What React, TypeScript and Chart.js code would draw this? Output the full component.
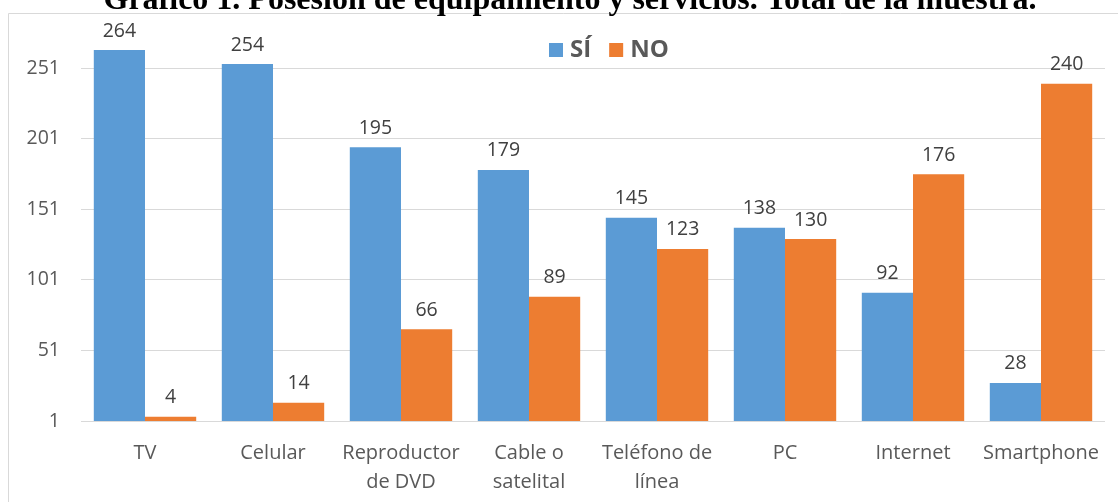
import React, { useEffect, useRef } from "react";
import { Chart, registerables } from "chart.js";

Chart.register(...registerables);

const categories: (string | string[])[] = [
  "TV",
  "Celular",
  ["Reproductor", "de DVD"],
  ["Cable o", "satelital"],
  ["Teléfono de", "línea"],
  "PC",
  "Internet",
  "Smartphone",
];
const siValues = [264, 254, 195, 179, 145, 138, 92, 28];
const noValues = [4, 14, 66, 89, 123, 130, 176, 240];
const yTicks = [1, 51, 101, 151, 201, 251];
const titleText = "Gráfico 1. Posesión de equipamiento y servicios. Total de la muestra.";

const BLUE = "#5b9bd5";
const ORANGE = "#ed7d31";
const SANS = "'Open Sans', sans-serif";

const decorPlugin = {
  id: "decor",
  beforeDraw(chart: any) {
    const ctx = chart.ctx;
    ctx.save();
    ctx.fillStyle = "#ffffff";
    ctx.fillRect(0, 0, chart.width, chart.height);
    ctx.strokeStyle = "#d9d9d9";
    ctx.lineWidth = 1;
    ctx.beginPath();
    ctx.moveTo(8.5, chart.height);
    ctx.lineTo(8.5, 13.5);
    ctx.lineTo(chart.width, 13.5);
    ctx.stroke();
    ctx.fillStyle = "#000000";
    ctx.font = "bold 32px 'Liberation Serif', 'Times New Roman', serif";
    ctx.textAlign = "center";
    ctx.textBaseline = "alphabetic";
    ctx.fillText(titleText, 570, 9);
    ctx.restore();
  },
  afterDatasetsDraw(chart: any) {
    const ctx = chart.ctx;
    ctx.save();
    ctx.font = `19.5px ${SANS}`;
    ctx.fillStyle = "#404040";
    ctx.textAlign = "center";
    ctx.textBaseline = "middle";
    chart.data.datasets.forEach((ds: any, di: number) => {
      const meta = chart.getDatasetMeta(di);
      meta.data.forEach((bar: any, i: number) => {
        ctx.fillText(String(ds.data[i]), bar.x, bar.y - 19);
      });
    });
    // legend
    const items = chart.data.datasets.map((ds: any) => ({ label: ds.label, color: ds.backgroundColor }));
    ctx.font = `bold 24px ${SANS}`;
    ctx.textAlign = "left";
    let x = 549;
    const cy = 50;
    items.forEach((it: any) => {
      ctx.fillStyle = it.color;
      ctx.fillRect(x, cy - 7, 14, 14);
      ctx.fillStyle = "#595959";
      ctx.fillText(it.label, x + 21, cy);
      x += 21 + ctx.measureText(it.label).width + 18;
    });
    ctx.restore();
  },
};

export default function App() {
  const ref = useRef<HTMLCanvasElement>(null);
  useEffect(() => {
    if (!ref.current) return;
    const chart = new Chart(ref.current, {
      type: "bar",
      data: {
        labels: categories,
        datasets: [
          { label: "SÍ", data: siValues, backgroundColor: BLUE, borderWidth: 0 },
          { label: "NO", data: noValues, backgroundColor: ORANGE, borderWidth: 0 },
        ],
      },
      options: {
        animation: false,
        responsive: false,
        devicePixelRatio: 1,
        layout: { padding: { left: 8, right: 13, top: 26, bottom: 0 } },
        plugins: { legend: { display: false }, title: { display: false }, tooltip: { enabled: false } },
        datasets: { bar: { categoryPercentage: 0.8, barPercentage: 1.0 } },
        scales: {
          x: {
            grid: { display: false },
            border: { display: false },
            ticks: {
              color: "#595959",
              font: { family: SANS, size: 20, lineHeight: 1.45 },
              padding: 10,
              maxRotation: 0,
              autoSkip: false,
            },
            afterFit(scale: any) {
              scale.height = 81;
              scale.paddingLeft = 0;
              scale.paddingRight = 0;
            },
          },
          y: {
            min: 1,
            max: 281,
            afterBuildTicks(scale: any) {
              scale.ticks = yTicks.map((v) => ({ value: v }));
            },
            grid: { color: "#d9d9d9", lineWidth: 1, drawTicks: false },
            border: { display: false },
            ticks: {
              color: "#595959",
              font: { family: SANS, size: 19.5 },
              padding: 21,
            },
            afterFit(scale: any) {
              scale.width = 73;
              scale.paddingTop = 0;
              scale.paddingBottom = 0;
            },
          },
        },
      },
      plugins: [decorPlugin],
    });
    return () => chart.destroy();
  }, []);
  return (
    <div style={{ position: "absolute", left: 0, top: 0, width: 1118, height: 502 }}>
      <canvas ref={ref} width={1118} height={502} style={{ display: "block" }} />
    </div>
  );
}
